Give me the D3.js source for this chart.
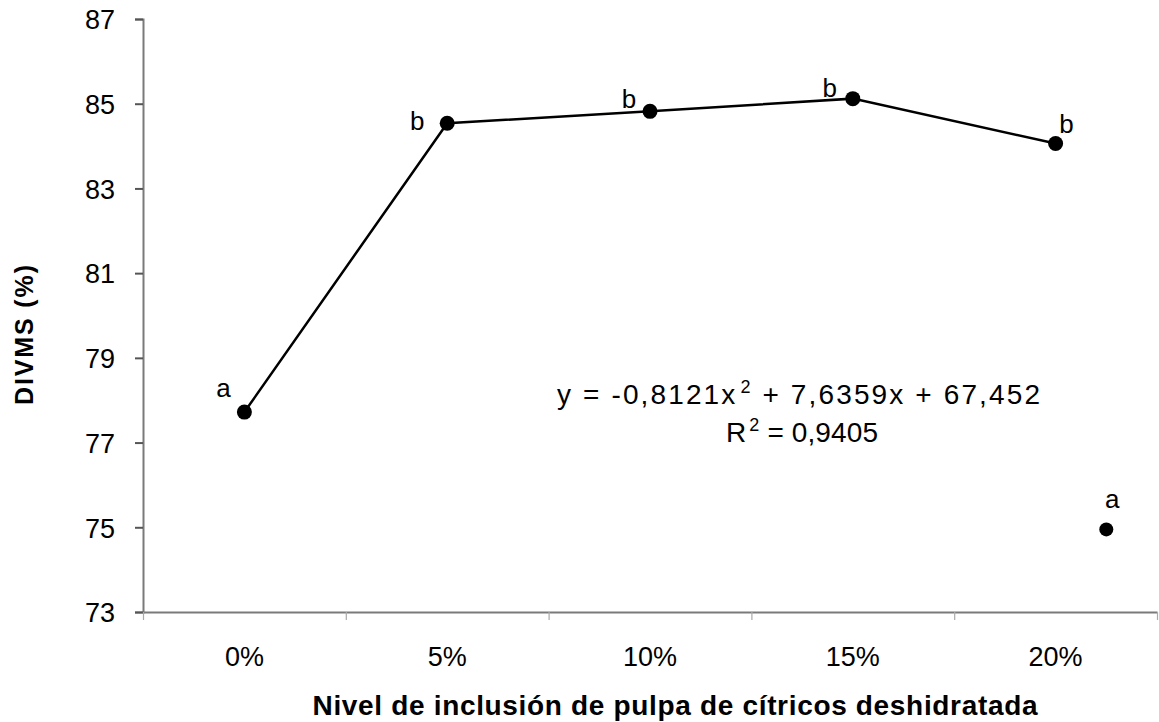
<!DOCTYPE html>
<html><head><meta charset="utf-8">
<script src="https://cdn.jsdelivr.net/npm/d3@7"></script>
<style>body{margin:0;background:#fff}svg{display:block}text{font-family:"Liberation Sans",Arial,sans-serif}</style>
</head><body>
<svg id="c" width="1159" height="722"></svg>
<script>
const categories = ["0%","5%","10%","15%","20%"];
const values = [77.72, 84.54, 84.82, 85.12, 84.06];
const letters = ["a","b","b","b","b"];
const extraPoint = {pos: 4.25, value: 74.95, letter: "a"};
const yTicks = [73,75,77,79,81,83,85,87];
const equationParts = ["y = -0,8121x", "2", " + 7,6359x + 67,452"];
const r2Parts = ["R", "2", " = 0,9405"];

(function(){
const svg = d3.select("#c");
const mLeft = 143, mRight = 1157, mTop = 19, mBottom = 612;
const x = d3.scaleLinear().domain([-0.5, 4.5]).range([mLeft, mRight]);
const y = d3.scaleLinear().domain([73, 87]).range([mBottom, mTop]);
const axisColor = "#7a7a7a";

// Y axis
const ya = svg.append("g").attr("transform", `translate(${mLeft},0)`)
  .call(d3.axisLeft(y).tickValues(yTicks).tickSize(8).tickPadding(20).tickFormat(d3.format("d")));
ya.select(".domain").attr("stroke", axisColor).attr("stroke-width", 2);
ya.selectAll(".tick line").attr("stroke", "#555").attr("stroke-width", 2);
ya.selectAll(".tick text").attr("font-size", 27).attr("fill", "#000").attr("dy", "0.36em");

// X axis
const xa = svg.append("g").attr("transform", `translate(0,${mBottom})`)
  .call(d3.axisBottom(x).tickValues(d3.range(-0.5, 4.6, 1)).tickSize(8).tickSizeOuter(0).tickFormat(""));
xa.select(".domain").attr("stroke", axisColor).attr("stroke-width", 2);
xa.selectAll(".tick line").attr("stroke", "#aaa").attr("stroke-width", 1.2);
svg.append("g").selectAll("text").data(categories).join("text")
  .attr("x", (d,i) => x(i)).attr("y", mBottom + 54)
  .attr("text-anchor", "middle").attr("font-size", 27).text(d => d);

// Axis titles
svg.append("text").attr("x", 675).attr("y", 715).attr("text-anchor", "middle")
  .attr("font-size", 28).attr("font-weight", "bold")
  .attr("textLength", 725).attr("lengthAdjust", "spacing")
  .text("Nivel de inclusión de pulpa de cítricos deshidratada");
svg.append("text").attr("transform", `translate(33,335) rotate(-90)`)
  .attr("text-anchor", "middle").attr("font-size", 25).attr("font-weight", "bold")
  .attr("textLength", 140).attr("lengthAdjust", "spacing").text("DIVMS (%)");

// Line
const line = d3.line().x((d,i) => x(i)).y(d => y(d));
svg.append("path").datum(values).attr("d", line).attr("fill", "none")
  .attr("stroke", "#000").attr("stroke-width", 2.5);
svg.append("g").selectAll("circle").data(values).join("circle")
  .attr("cx", (d,i) => x(i)).attr("cy", d => y(d)).attr("r", 7.5).attr("fill", "#000");
svg.append("circle").attr("cx", x(extraPoint.pos)).attr("cy", y(extraPoint.value)).attr("r", 7).attr("fill", "#000");

// Letters
const letterOffsets = [[-21,-15],[-30,7],[-21,-3],[-23,-2],[11,-11]];
svg.append("g").selectAll("text").data(values).join("text")
  .attr("x", (d,i) => x(i) + letterOffsets[i][0]).attr("y", (d,i) => y(d) + letterOffsets[i][1])
  .attr("text-anchor", "middle").attr("font-size", 26).text((d,i) => letters[i]);
svg.append("text").attr("x", x(extraPoint.pos) + 6).attr("y", y(extraPoint.value) - 21)
  .attr("text-anchor", "middle").attr("font-size", 26).text(extraPoint.letter);

// Equation
function supText(parts, xx, yy, len) {
  const t = svg.append("text").attr("x", xx).attr("y", yy).attr("font-size", 28)
    .attr("textLength", len).attr("lengthAdjust", "spacing");
  t.append("tspan").text(parts[0]);
  t.append("tspan").attr("font-size", 18).attr("dy", -11).attr("dx", 3).text(parts[1]);
  t.append("tspan").attr("dy", 11).text(parts[2]);
}
supText(equationParts, 557, 404, 483);
supText(r2Parts, 726, 442, 152);
})();
</script>
</body></html>
